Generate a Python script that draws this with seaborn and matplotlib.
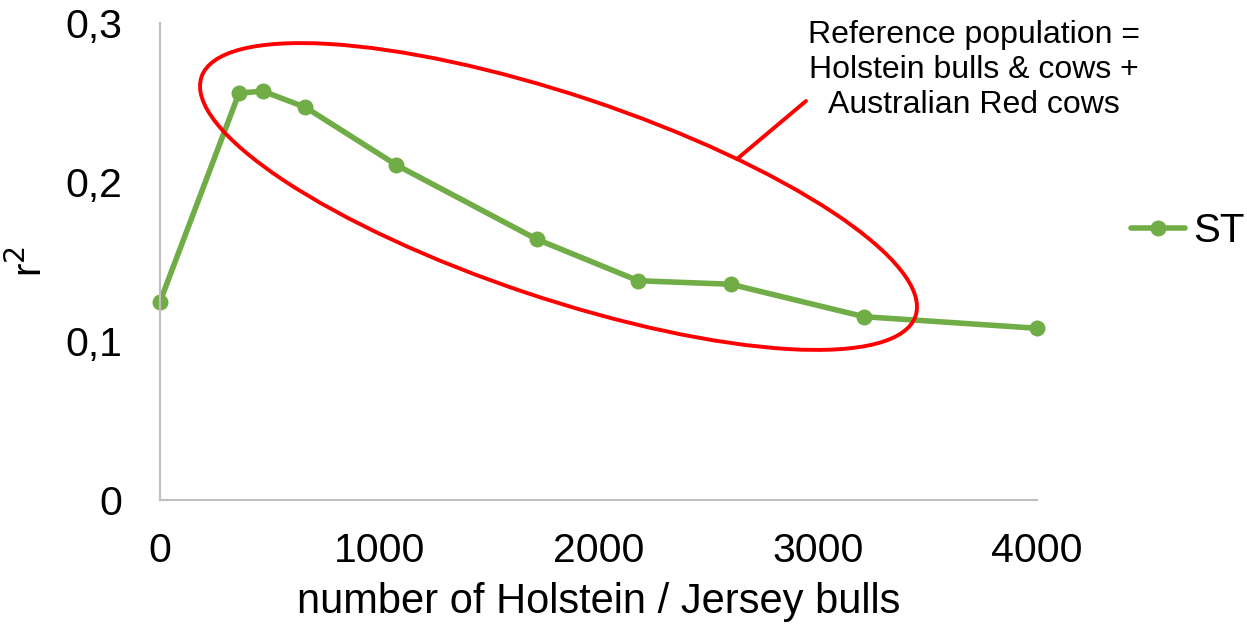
import numpy as np
import pandas as pd
import seaborn as sns
import matplotlib.pyplot as plt
from matplotlib.patches import Ellipse
from matplotlib.lines import Line2D
from matplotlib.ticker import FuncFormatter

# values
n_bulls = [0, 360, 468, 663, 1078, 1718, 2181, 2603, 3211, 4000]
r2_st = [0.1247, 0.2558, 0.2572, 0.2470, 0.2107, 0.1640, 0.1379, 0.1357, 0.1153, 0.1080]
series_name = "ST"
x_ticks = [0, 1000, 2000, 3000, 4000]
y_ticks = [0, 0.1, 0.2, 0.3]
note_lines = ["Reference population =", "Holstein bulls & cows +", "Australian Red cows"]

df = pd.DataFrame({"bulls": n_bulls, "r2": r2_st, "trait": series_name})

sns.set_style("white")
plt.rcParams['font.family'] = ['Liberation Sans', 'DejaVu Sans']
plt.rcParams['text.color'] = 'black'
plt.rcParams['xtick.color'] = 'black'
plt.rcParams['ytick.color'] = 'black'
plt.rcParams['axes.labelcolor'] = 'black'

green = "#70AD47"
fig = plt.figure(figsize=(12.47, 6.34), dpi=100)
ax = fig.add_axes([160/1247, 134/634, 877/1247, 477/634])

sns.lineplot(data=df, x="bulls", y="r2", hue="trait", palette=[green], marker="o",
             markersize=11.5, markeredgewidth=0, linewidth=4.0, ax=ax, legend=False,
             clip_on=False)

ax.set_xlim(0, 4000)
ax.set_ylim(0, 0.3)
ax.set_xticks(x_ticks)
ax.set_yticks(y_ticks)
ax.yaxis.set_major_formatter(FuncFormatter(lambda v, p: "0" if v == 0 else ("%.1f" % v).replace(".", ",")))
ax.tick_params(axis="both", length=0, labelsize=29.5)
ax.tick_params(axis="x", pad=23)
ax.tick_params(axis="y", pad=27)

for s in ["top", "right"]:
    ax.spines[s].set_visible(False)
for s in ["left", "bottom"]:
    ax.spines[s].set_color("#BFBFBF")
    ax.spines[s].set_linewidth(1.5)

ax.set_xlabel("number of Holstein / Jersey bulls", fontsize=30)
ax.xaxis.set_label_coords(0.5, -0.172)
ax.xaxis.label.set_va("top")
ax.set_ylabel("r$^2$", fontsize=29)
ax.yaxis.set_label_coords(-0.125, 0.5)

# legend at the right
h = Line2D([], [], color=green, lw=4.0, marker="o", markersize=11.5, markeredgewidth=0)
fig.legend([h], [series_name], loc="center left", bbox_to_anchor=(1131/1247, (634-231)/634),
           frameon=False, fontsize=29, handlelength=1.35, handletextpad=0.2,
           borderpad=0, borderaxespad=0)

# red ellipse and callout (figure inches)
ell = Ellipse((5.585, (634-196.5)/100), width=7.53, height=2.03, angle=-18.5,
              fill=False, edgecolor="red", lw=2.8, transform=fig.dpi_scale_trans, clip_on=False)
fig.add_artist(ell)
fig.add_artist(Line2D([8.06, 7.37], [(634-101)/100, (634-159)/100], color="red", lw=2.8,
                      transform=fig.dpi_scale_trans))

fig.text(974/1247, (634-70)/634, "\n".join(note_lines), ha="center", va="center",
         multialignment="center", fontsize=23, linespacing=1.2)

fig.savefig("out.png", dpi=100)
